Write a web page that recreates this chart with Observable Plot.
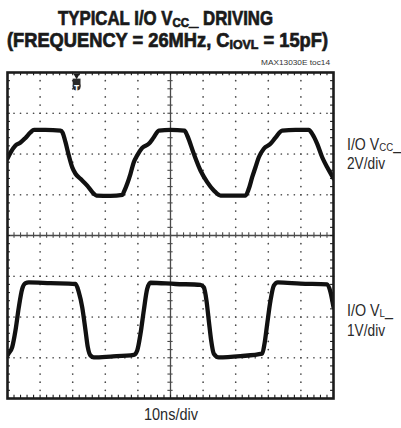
<!DOCTYPE html>
<html><head><meta charset="utf-8">
<script src="https://cdn.jsdelivr.net/npm/d3@7"></script>
<script src="https://cdn.jsdelivr.net/npm/@observablehq/plot@0.6"></script>
<style>
html,body{margin:0;padding:0;background:#fff;}
#wrap{position:relative;width:401px;height:428px;overflow:hidden;font-family:"Liberation Sans",Arial,sans-serif;}
.t{position:absolute;white-space:nowrap;left:0;top:0;line-height:0.9;}
.title{font-weight:bold;font-size:19.5px;color:#1a1a1a;-webkit-text-stroke:0.7px #1a1a1a;}
.lab{font-size:16.5px;color:#2a2a2a;}
.note{font-size:7.5px;color:#333;}
sub{font-size:0.68em;vertical-align:baseline;position:relative;top:0.14em;}
</style></head>
<body><div id="wrap"></div>
<script>
// ---- data ----
// Top trace: I/O VCC_, 2 V/div
const timeTop = [0,0.92,2.45,3.99,5.52,7.06,8.13,11.66,16.26,16.87,17.79,18.80,19.85,20.86,22.39,24.45,26.47,27.30,31.6,35.28,35.67,36.72,37.73,38.74,39.79,41.32,43.34,44.88,46.41,50.0,54.29,55.12,57.15,59.20,61.26,63.28,65.34,73.0,74.02,75.06,76.07,77.09,78.62,80.67,82.21,84.26,88.34,92.42,93.47,95.0,96.53,98.07,100];
const voltTop = [1.78,2.07,2.42,2.56,2.79,3.06,3.18,3.18,3.15,3.06,2.58,1.93,1.35,1.03,0.78,0.45,0.05,-0.04,-0.06,-0.01,0.125,0.54,1.03,1.60,1.93,2.30,2.50,2.82,3.15,3.18,3.15,2.91,2.01,1.19,0.62,0.21,-0.04,-0.04,0.29,0.86,1.35,1.84,2.26,2.50,2.80,3.15,3.18,3.18,2.99,2.50,1.84,1.35,0.80];
// Bottom trace: I/O VL_, 1 V/div
const timeBot = [0,0.40,1.44,2.45,3.47,4.51,5.52,6.53,13.19,20.86,21.87,22.91,23.93,24.63,25.46,26.47,31.6,38.74,39.79,40.80,41.81,42.85,43.87,51.53,59.20,60.21,61.04,61.75,62.48,63.28,64.82,71.47,78.13,78.83,79.66,80.67,81.69,82.91,89.88,98.07,99.08,100];
const voltBot = [0.055,0.11,0.26,0.67,1.24,1.69,1.83,1.85,1.83,1.81,1.61,1.24,0.67,0.26,0.055,0.01,0.03,0.07,0.18,0.59,1.16,1.69,1.84,1.81,1.79,1.73,1.40,0.91,0.42,0.10,0.01,0.04,0.10,0.34,0.83,1.40,1.77,1.85,1.82,1.80,1.61,1.24];
// scope settings
const topVoltsPerDiv = 2, topOffsetDiv = 1;
const botVoltsPerDiv = 1, botOffsetDiv = -3;
const trigger = [{t: 21.2}];
// graticule
const xMajorDotted = [10,20,30,40,60,70,80,90];
const yMajorDotted = [-3,-2,-1,1,2,3];
const xCenter = 50, yCenter = 0;
const xMinor = d3.range(0, 100.001, 2);
const yMinor = d3.range(-4, 4.001, 0.2);

const topData = timeTop.map((t,i)=>({t, v: voltTop[i]}));
const botData = timeBot.map((t,i)=>({t, v: voltBot[i]}));
const gridDotsV = xMajorDotted.flatMap(x => yMinor.map(y => ({x, y})));
const gridDotsH = yMajorDotted.flatMap(y => xMinor.map(x => ({x, y})));

const wrap = document.getElementById("wrap");
const ink = "#1c1c1c", gray = "#4a4a4a";

const chart = Plot.plot({
  width: 401, height: 428,
  marginTop: 72, marginBottom: 30, marginLeft: 7, marginRight: 68,
  x: {domain: [0, 100], axis: null},
  y: {domain: [-4, 4], axis: null},
  style: {background: "transparent", overflow: "visible"},
  marks: [
    Plot.dot(gridDotsV, {x: "x", y: "y", r: 0.85, fill: gray, stroke: null}),
    Plot.dot(gridDotsH, {x: "x", y: "y", r: 0.85, fill: gray, stroke: null}),
    Plot.ruleX([xCenter], {stroke: gray, strokeWidth: 1.3}),
    Plot.ruleY([yCenter], {stroke: gray, strokeWidth: 1.3}),
    Plot.ruleX(xMinor, {x: d => d, y1: -0.065, y2: 0.065, stroke: gray, strokeWidth: 1.1}),
    Plot.ruleY(yMinor, {y: d => d, x1: xCenter - 0.8, x2: xCenter + 0.8, stroke: gray, strokeWidth: 1.1}),
    Plot.ruleX(xMinor, {x: d => d, y1: 4, y2: 3.92, stroke: ink, strokeWidth: 1.1}),
    Plot.ruleX(xMinor, {x: d => d, y1: -4, y2: -3.92, stroke: ink, strokeWidth: 1.1}),
    Plot.ruleY(yMinor, {y: d => d, x1: 0, x2: 0.9, stroke: ink, strokeWidth: 1.1}),
    Plot.ruleY(yMinor, {y: d => d, x1: 100, x2: 99.1, stroke: ink, strokeWidth: 1.1}),
    Plot.line(topData, {x: "t", y: d => topOffsetDiv + d.v / topVoltsPerDiv, stroke: "#111", strokeWidth: 4.3, curve: "monotone-x", strokeLinejoin: "round", clip: true}),
    Plot.line(botData, {x: "t", y: d => botOffsetDiv + d.v / botVoltsPerDiv, stroke: "#111", strokeWidth: 4.3, curve: "monotone-x", strokeLinejoin: "round", clip: true}),
    Plot.dot(trigger, {x: "t", frameAnchor: "top", dy: 3, symbol: "triangle", rotate: 180, r: 2.4, fill: ink, stroke: null}),
    Plot.dot(trigger, {x: "t", frameAnchor: "top", dy: 10, symbol: "square", r: 4.4, fill: "#2a2a2a", stroke: null}),
    Plot.dot(trigger, {x: "t", frameAnchor: "top", dy: 14, symbol: "circle", r: 4, fill: "#2a2a2a", stroke: null}),
    Plot.text(trigger, {x: "t", frameAnchor: "top", dy: 12, text: () => "T", fill: "white", fontSize: 9, fontWeight: "bold"}),
    Plot.frame({stroke: ink, strokeWidth: 2.6})
  ]
});
wrap.appendChild(chart);

function place(html, cls, x, baseline, width, anchor) {
  const el = document.createElement("div");
  el.className = "t " + cls;
  el.innerHTML = html;
  wrap.appendChild(el);
  const fs = parseFloat(getComputedStyle(el).fontSize);
  const w = el.getBoundingClientRect().width;
  el.style.transformOrigin = "0 0";
  el.style.transform = `scaleX(${width / w})`;
  const left = anchor === "middle" ? x - width / 2 : anchor === "end" ? x - width : x;
  el.style.left = left + "px";
  el.style.top = (baseline - fs * 0.7965) + "px";
}
place("TYPICAL I/O V<sub>CC</sub>_ DRIVING", "title", 58, 25.3, 215, "start");
place("(FREQUENCY = 26MHz, C<sub>IOVL</sub> = 15pF)", "title", 7, 47.8, 321, "start");
place("MAX13030E toc14", "note", 330, 66, 69, "end");
place("I/O V<sub>CC</sub>_", "lab", 347, 150, 54, "start");
place("2V/div", "lab", 347, 169, 38, "start");
place("I/O V<sub>L</sub>_", "lab", 347, 316, 46, "start");
place("1V/div", "lab", 347, 336, 38, "start");
place("10ns/div", "lab", 143.5, 420, 54, "start");
</script></body></html>
